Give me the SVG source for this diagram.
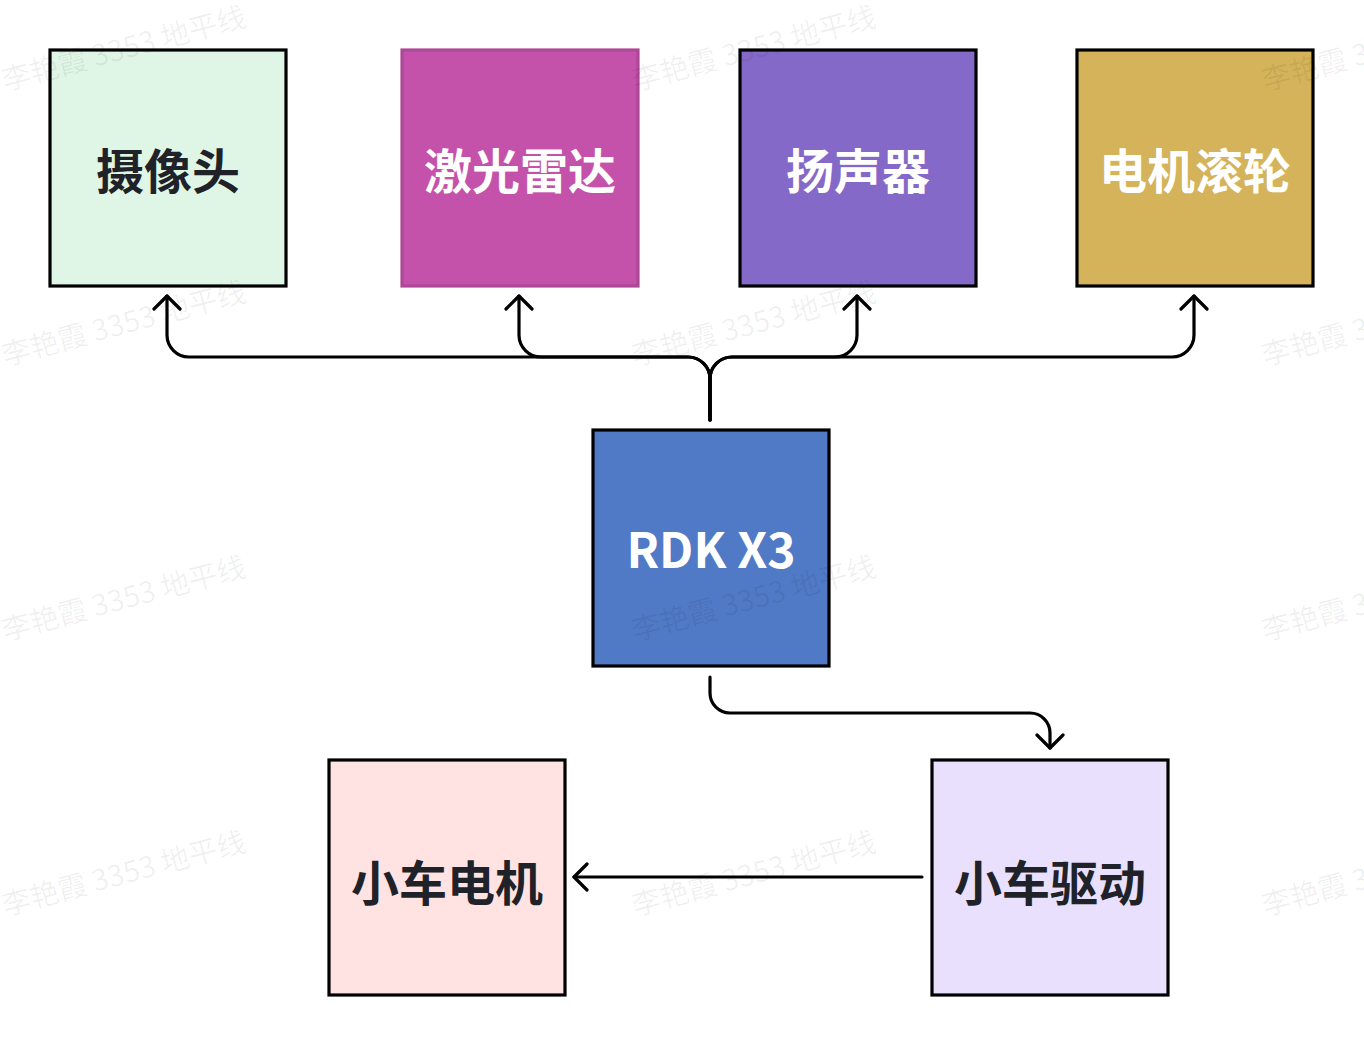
<svg xmlns="http://www.w3.org/2000/svg" width="1364" height="1046" viewBox="0 0 1364 1046">
<style>
.box{stroke:#000;stroke-width:3.2}
.lbl{font-family:"Noto Sans CJK SC","Noto Sans",sans-serif;font-weight:700;font-size:48px;text-anchor:middle}
.dark{fill:#1f2329}
.light{fill:#ffffff}
.conn{fill:none;stroke:#000;stroke-width:3.2;stroke-linecap:round;stroke-linejoin:round}
.wm{font-family:"Noto Sans CJK SC","Noto Sans",sans-serif;font-size:29px;fill:#000;fill-opacity:0.06}
</style>
<defs>
<marker id="arr" markerUnits="userSpaceOnUse" viewBox="0 0 20 30" refX="15" refY="15" markerWidth="20" markerHeight="30" orient="auto">
<path d="M2 2 L15 15 L2 28" fill="none" stroke="#000" stroke-width="3.2" stroke-linecap="round" stroke-linejoin="round"/>
</marker>
</defs>
<rect width="1364" height="1046" fill="#ffffff"/>
<g id="connectors">
<path class="conn" d="M710 420 V379 A22 22 0 0 0 688 357 H189 A22 22 0 0 1 167 335 V296" marker-end="url(#arr)"/>
<path class="conn" d="M710 420 V379 A22 22 0 0 0 688 357 H541 A22 22 0 0 1 519 335 V296" marker-end="url(#arr)"/>
<path class="conn" d="M710 420 V379 A22 22 0 0 1 732 357 H835 A22 22 0 0 0 857 335 V296" marker-end="url(#arr)"/>
<path class="conn" d="M710 420 V379 A22 22 0 0 1 732 357 H1172 A22 22 0 0 0 1194 335 V296" marker-end="url(#arr)"/>
<path class="conn" d="M710 677 V693 A20 20 0 0 0 730 713 H1030 A20 20 0 0 1 1050 733 V748" marker-end="url(#arr)"/>
<path class="conn" d="M922 877 H574" marker-end="url(#arr)"/>
</g>
<g id="camera">
<rect class="box" x="50" y="50" width="236" height="236" fill="#dff5e5"/>
<text class="lbl dark" x="168" y="189">摄像头</text>
</g>
<g id="lidar">
<rect x="402" y="50" width="236" height="236" fill="#c452aa" stroke="#ad4899" stroke-width="3.2"/>
<text class="lbl light" x="520" y="189">激光雷达</text>
</g>
<g id="speaker">
<rect class="box" x="740" y="50" width="236" height="236" fill="#8569c8"/>
<text class="lbl light" x="858" y="189">扬声器</text>
</g>
<g id="motor-wheel">
<rect class="box" x="1077" y="50" width="236" height="236" fill="#d4b35a"/>
<text class="lbl light" x="1195" y="189">电机滚轮</text>
</g>
<g id="rdk">
<rect class="box" x="593" y="430" width="236" height="236" fill="#5079c6"/>
<text class="lbl light" x="711" y="568">RDK X3</text>
</g>
<g id="car-motor">
<rect class="box" x="329" y="760" width="236" height="235" fill="#ffe3e3"/>
<text class="lbl dark" x="447" y="901">小车电机</text>
</g>
<g id="car-driver">
<rect class="box" x="932" y="760" width="236" height="235" fill="#e9e0fd"/>
<text class="lbl dark" x="1050" y="901">小车驱动</text>
</g>
<g id="watermark">
<text class="wm" transform="translate(5 91) rotate(-15)">李艳霞 3353 地平线</text>
<text class="wm" transform="translate(635 91) rotate(-15)">李艳霞 3353 地平线</text>
<text class="wm" transform="translate(1265 91) rotate(-15)">李艳霞 3353 地平线</text>
<text class="wm" transform="translate(5 366) rotate(-15)">李艳霞 3353 地平线</text>
<text class="wm" transform="translate(635 366) rotate(-15)">李艳霞 3353 地平线</text>
<text class="wm" transform="translate(1265 366) rotate(-15)">李艳霞 3353 地平线</text>
<text class="wm" transform="translate(5 641) rotate(-15)">李艳霞 3353 地平线</text>
<text class="wm" transform="translate(635 641) rotate(-15)">李艳霞 3353 地平线</text>
<text class="wm" transform="translate(1265 641) rotate(-15)">李艳霞 3353 地平线</text>
<text class="wm" transform="translate(5 916) rotate(-15)">李艳霞 3353 地平线</text>
<text class="wm" transform="translate(635 916) rotate(-15)">李艳霞 3353 地平线</text>
<text class="wm" transform="translate(1265 916) rotate(-15)">李艳霞 3353 地平线</text>
</g>
</svg>
